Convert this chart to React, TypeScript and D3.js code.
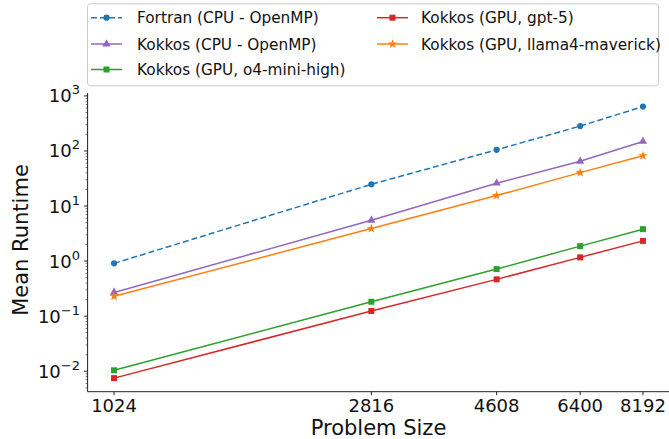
import * as d3 from "d3";
import React from "react";

const sizes = [1024, 2816, 4608, 6400, 8192];
const fortranCpu = [0.91, 24.8, 105, 283, 640];
const kokkosCpu = [0.27, 5.5, 26, 65, 149];
const kokkosO4 = [0.0104, 0.183, 0.716, 1.87, 3.8];
const kokkosGpt5 = [0.0075, 0.124, 0.466, 1.17, 2.33];
const kokkosLlama = [0.23, 3.9, 15.5, 40.4, 82];

const series = [
  { label: "Fortran (CPU - OpenMP)", values: fortranCpu, color: "#1f77b4", symbol: d3.symbolCircle, area: 30, dashed: true },
  { label: "Kokkos (CPU - OpenMP)", values: kokkosCpu, color: "#9467bd", symbol: d3.symbolTriangle, area: 30, dashed: false },
  { label: "Kokkos (GPU, o4-mini-high)", values: kokkosO4, color: "#2ca02c", symbol: d3.symbolSquare, area: 36, dashed: false },
  { label: "Kokkos (GPU, gpt-5)", values: kokkosGpt5, color: "#d62728", symbol: d3.symbolSquare, area: 36, dashed: false },
  { label: "Kokkos (GPU, llama4-maverick)", values: kokkosLlama, color: "#ff7f0e", symbol: d3.symbolStar, area: 28, dashed: false },
];

const W = 669;
const H = 439;
const left = 87.6;
const right = 669.4;
const top = 93;
const bottom = 391.7;
const font = "DejaVu Sans, sans-serif";

// log-space limits with 5% margins, like matplotlib autoscale
const pad = (lo: number, hi: number) => {
  const m = (hi - lo) * 0.05;
  return [lo - m, hi + m];
};

export default function App() {
  const [xl, xh] = pad(Math.log2(d3.min(sizes)!), Math.log2(d3.max(sizes)!));
  const x = d3.scaleLog().base(2).domain([2 ** xl, 2 ** xh]).range([left, right]);

  const all = series.flatMap((s) => s.values);
  const [yl, yh] = pad(Math.log10(d3.min(all)!), Math.log10(d3.max(all)!));
  const y = d3.scaleLog().domain([10 ** yl, 10 ** yh]).range([bottom, top]);

  const majors = d3.range(-2, 4).map((e) => ({ e, v: 10 ** e }));
  const minors: number[] = [];
  for (let e = -3; e <= 3; e++) {
    for (let k = 2; k <= 9; k++) {
      const v = k * 10 ** e;
      if (v >= 10 ** yl && v <= 10 ** yh) minors.push(v);
    }
  }

  const line = d3
    .line<number>()
    .x((_, i) => x(sizes[i]))
    .y((d) => y(d));

  const rowY = [17.7, 44, 69.5];
  const colX = [91, 377];
  const textX = [137, 421];

  return (
    <svg width={W} height={H} style={{ position: "absolute", left: 0, top: 0 }} fontFamily={font}>
      <rect width={W} height={H} fill="white" />

      {/* series */}
      {series.map((s) => (
        <g key={s.label}>
          <path
            d={line(s.values)!}
            fill="none"
            stroke={s.color}
            strokeWidth={1.5}
            strokeDasharray={s.dashed ? "6,3" : undefined}
          />
          {s.values.map((v, i) => (
            <path
              key={i}
              d={d3.symbol().type(s.symbol).size(s.area)()!}
              transform={`translate(${x(sizes[i])},${y(v)})`}
              fill={s.color}
            />
          ))}
        </g>
      ))}

      {/* axes */}
      <line x1={left} x2={left} y1={top} y2={bottom} stroke="#222" strokeWidth={1} />
      <line x1={left} x2={W} y1={bottom} y2={bottom} stroke="#222" strokeWidth={1} />

      {sizes.map((s) => (
        <g key={s}>
          <line x1={x(s)} x2={x(s)} y1={bottom} y2={bottom + 3.5} stroke="#222" />
          <text x={x(s)} y={412} textAnchor="middle" fontSize={18} fill="#111">
            {s}
          </text>
        </g>
      ))}

      {minors.map((v) => (
        <line key={v} x1={left - 2} x2={left} y1={y(v)} y2={y(v)} stroke="#222" strokeWidth={0.6} />
      ))}
      {majors.map(({ e, v }) => (
        <g key={e}>
          <line x1={left - 3.5} x2={left} y1={y(v)} y2={y(v)} stroke="#222" />
          <text x={80} y={y(v) + 6.5} textAnchor="end" fontSize={18} fill="#111">
            10
            <tspan fontSize={13} dy={-8}>
              {e < 0 ? `\u2212${-e}` : `${e}`}
            </tspan>
          </text>
        </g>
      ))}

      <text x={(left + right) / 2} y={434.5} textAnchor="middle" fontSize={21} fill="#111">
        Problem Size
      </text>
      <text transform={`translate(28,240) rotate(-90)`} textAnchor="middle" fontSize={21} fill="#111">
        Mean Runtime
      </text>

      {/* legend */}
      <rect x={87.5} y={3.8} width={571} height={82} rx={3} fill="white" fillOpacity={0.8} stroke="#cccccc" />
      {series.map((s, i) => {
        const col = Math.floor(i / 3);
        const row = i % 3;
        const cy = rowY[row];
        return (
          <g key={s.label}>
            <line
              x1={colX[col]}
              x2={colX[col] + 31}
              y1={cy}
              y2={cy}
              stroke={s.color}
              strokeWidth={1.5}
              strokeDasharray={s.dashed ? "6,3" : undefined}
            />
            <path
              d={d3.symbol().type(s.symbol).size(s.area)()!}
              transform={`translate(${colX[col] + 15.5},${cy})`}
              fill={s.color}
            />
            <text x={textX[col]} y={cy + 5.5} fontSize={15.3} fill="#111">
              {s.label}
            </text>
          </g>
        );
      })}
    </svg>
  );
}
